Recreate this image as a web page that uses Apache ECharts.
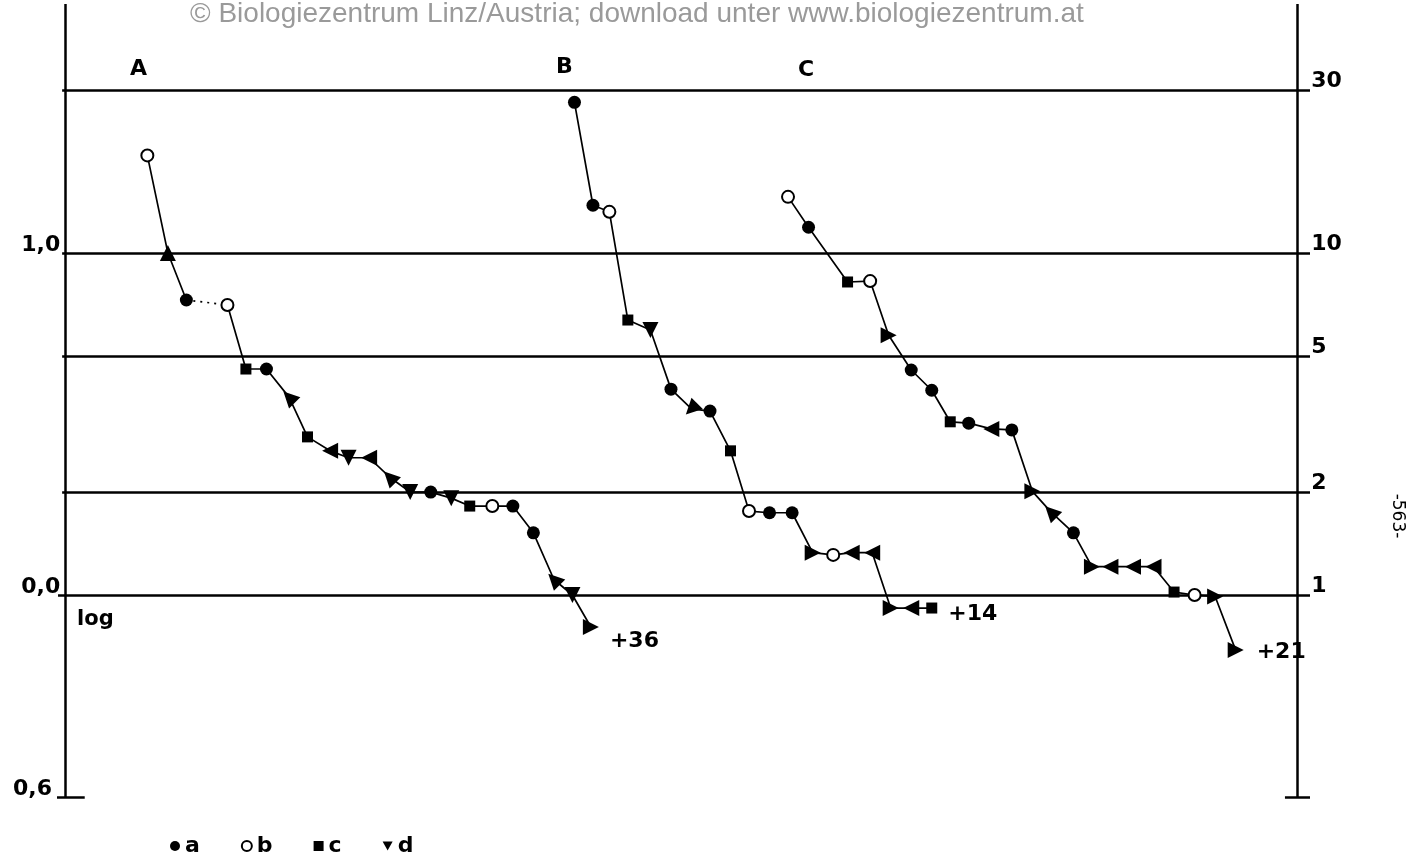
<!DOCTYPE html>
<html>
<head>
<meta charset="utf-8">
<script src="https://cdn.jsdelivr.net/npm/echarts@6/dist/echarts.min.js"></script>
<style>
html,body{margin:0;padding:0;background:#fff;}
#chart{width:1417px;height:856px;}
</style>
</head>
<body>
<div id="chart"></div>
<script>
// ---------- data ----------
// curve A
const xA = [4.0,5.0,5.9,7.9,8.8,9.8,10.9,11.8,12.9,13.8,14.8,15.8,16.8,17.8,18.8,19.7,20.8,21.8,22.8,23.8,24.7,25.6];
const yA = [19.3,10.0,7.29,7.05,4.58,4.58,3.79,2.90,2.64,2.52,2.52,2.21,2.00,2.00,1.92,1.82,1.82,1.82,1.52,1.11,1.00,0.806];
const mA = ['b','d','a','b','c','a','d','c','d','d','d','d','d','a','d','c','b','a','a','d','d','d'];
const pA = ['','u','','','','','ul','','l','d','l','ul','d','','d','','','','','ul','d','r'];
// curve B
const xB = [24.8,25.7,26.5,27.4,28.5,29.5,30.5,31.4,32.4,33.3,34.3,35.4,36.4,37.4,38.3,39.3,40.2,41.2,42.2];
const yB = [27.6,13.8,13.2,6.37,5.96,4.00,3.50,3.45,2.64,1.76,1.74,1.74,1.33,1.31,1.33,1.33,0.916,0.916,0.916];
const mB = ['a','a','b','c','d','a','d','a','c','b','a','a','d','b','d','d','d','d','c'];
const pB = ['','','','','d','','dl','','','','','','r','','l','l','r','l',''];
// curve C
const xC = [35.2,36.2,38.1,39.2,40.1,41.2,42.2,43.1,44.0,45.1,46.1,47.1,48.0,49.1,50.0,50.9,52.0,53.0,54.0,55.0,56.0,57.0];
const yC = [14.6,11.9,8.23,8.28,5.75,4.55,3.97,3.21,3.18,3.06,3.04,2.01,1.75,1.52,1.21,1.21,1.21,1.21,1.02,1.00,0.99,0.69];
const mC = ['b','a','c','b','d','a','a','c','a','d','a','d','d','a','d','d','d','d','c','b','d','d'];
const pC = ['','','','','r','','','','','l','','r','ul','','r','l','l','l','','','r','r'];

const curveNames = ['A','B','C'];
const endNotes = ['+36','+14','+21'];
const markerTypes = ['a','b','c','d'];

const gridValues = [30,10,5,2,1];
const rightLabels = ['30','10','5','2','1'];
const leftLabelValues = [10,1];
const leftLabels = ['1,0','0,0'];
const bottomLabel = '0,6';

const yMin = 0.2566, yMax = 53.5;
const axisLeftX = 0, axisRightX = 60;
const xMin = -0.4, xMax = 60.62;

// ---------- build ----------
const rot = {u:0,d:180,l:90,r:-90,ul:45,ur:-45,dl:135,dr:-135,'':0};
const curves = [
  {x:xA,y:yA,m:mA,p:pA},
  {x:xB,y:yB,m:mB,p:pB},
  {x:xC,y:yC,m:mC,p:pC}
];
const noteOffsets = [[6,14],[6,6],[8,2]];
const boldFont = {color:'#000', fontFamily:'DejaVu Sans', fontWeight:'bold', fontSize:22, opacity:1};

const symbolOf = {a:'circle', b:'circle', c:'rect', d:'triangle'};
const sizeOf = {a:13, b:12, c:11, d:16};
const styleOf = {
  a:{color:'#000', opacity:1},
  b:{color:'#fff', borderColor:'#000', borderWidth:2, opacity:1},
  c:{color:'#000', opacity:1},
  d:{color:'#000', opacity:1}
};

const markerData = {a:[],b:[],c:[],d:[]};
curves.forEach((c,ci)=>{
  c.x.forEach((xv,i)=>{
    const item = {value:[xv,c.y[i]], symbolRotate: rot[c.p[i]]};
    if (i === c.x.length-1) {
      item.label = Object.assign({show:true, formatter:endNotes[ci], position:'right', offset:noteOffsets[ci]}, boldFont);
    }
    markerData[c.m[i]].push(item);
  });
});

// reference lines: horizontal grid lines, two vertical axes, bottom ticks
const hl = gridValues.map(v=>[{coord:[v===1 ? xMin+0.05 : axisLeftX-0.15, v]},{coord:[xMax, v]}]);
hl.push([{coord:[xMin,yMin]},{coord:[axisLeftX+0.95,yMin]}]);
hl.push([{coord:[axisRightX-0.6,yMin]},{coord:[xMax,yMin]}]);
hl.push([{coord:[axisLeftX,yMin]},{coord:[axisLeftX,yMax]}]);
hl.push([{coord:[axisRightX,yMin]},{coord:[axisRightX,yMax]}]);
const refLines = {symbol:'none', silent:true, animation:false, label:{show:false},
  lineStyle:{color:'#000', width:2.5, type:'solid', opacity:1}, emphasis:{disabled:true}, data:hl};

const series = [];
const lineBase = {type:'line', symbol:'none', silent:true, z:2, animation:false, clip:false};
curves.forEach((c,ci)=>{
  const pts = c.x.map((xv,i)=>[xv,c.y[i]]);
  if (ci === 0) {
    series.push(Object.assign({}, lineBase, {data:pts.slice(0,3), lineStyle:{color:'#000',width:1.7}, markLine:refLines}));
    series.push(Object.assign({}, lineBase, {data:pts.slice(2,4), lineStyle:{color:'#000',width:1.7,type:[2,5]}}));
    series.push(Object.assign({}, lineBase, {data:pts.slice(3), lineStyle:{color:'#000',width:1.7}}));
  } else {
    series.push(Object.assign({}, lineBase, {data:pts, lineStyle:{color:'#000',width:1.7}}));
  }
});
// markers by type
markerTypes.forEach(t=>{
  series.push({
    name:t, type:'scatter', data:markerData[t], symbol:symbolOf[t], symbolSize:sizeOf[t],
    itemStyle:styleOf[t], z:5, animation:false, silent:true, clip:false
  });
});
// right labels
series.push({
  type:'scatter', silent:true, animation:false, symbolSize:0, clip:false, itemStyle:{opacity:1},
  data:gridValues.map((v,i)=>({value:[axisRightX,v], name:rightLabels[i]})),
  label:Object.assign({show:true, position:'right', distance:14, offset:[0,-9], formatter:p=>p.name}, boldFont)
});
// left labels
series.push({
  type:'scatter', silent:true, animation:false, symbolSize:0, clip:false, itemStyle:{opacity:1},
  data:leftLabelValues.map((v,i)=>({value:[axisLeftX,v], name:leftLabels[i]})).concat([{value:[xMin,yMin], name:bottomLabel}]),
  label:Object.assign({show:true, position:'left', distance:5, offset:[0,-8], formatter:p=>p.name}, boldFont)
});

const chart = echarts.init(document.getElementById('chart'), null, {renderer:'canvas'});
chart.setOption({
  backgroundColor:'#fff',
  animation:false,
  grid:{left:57, right:107, top:4, bottom:59, containLabel:false},
  xAxis:{type:'value', min:xMin, max:xMax, show:false},
  yAxis:{type:'log', min:yMin, max:yMax, show:false},
  legend:{
    left:165, top:830, itemWidth:10, itemHeight:10, itemGap:41,
    data:[{name:'a'},{name:'b'},{name:'c'},{name:'d', icon:'path://M0,0L10,0L5,9Z'}],
    textStyle:{color:'#000', fontFamily:'DejaVu Sans', fontWeight:'bold', fontSize:22, padding:[8,0,0,0]},
    selectedMode:false
  },
  graphic:[
    {type:'text', x:190, y:0, style:{text:'© Biologiezentrum Linz/Austria; download unter www.biologiezentrum.at',
      font:'28px "Liberation Sans", Arial, sans-serif', fill:'#9a9a9a'}, silent:true, z:10},
    {type:'text', x:130, y:58, style:{text:curveNames[0], font:'bold 22px "DejaVu Sans"', fill:'#000'}},
    {type:'text', x:556, y:56, style:{text:curveNames[1], font:'bold 22px "DejaVu Sans"', fill:'#000'}},
    {type:'text', x:798, y:59, style:{text:curveNames[2], font:'bold 22px "DejaVu Sans"', fill:'#000'}},
    {type:'text', x:77, y:609, style:{text:'log', font:'bold 21px "DejaVu Sans"', fill:'#000'}},
    {type:'text', x:1397, y:516, rotation:-Math.PI/2, style:{text:'-563-', font:'17px "DejaVu Sans"', fill:'#000', align:'center', verticalAlign:'middle'}}
  ],
  series:series
});
</script>
</body>
</html>
